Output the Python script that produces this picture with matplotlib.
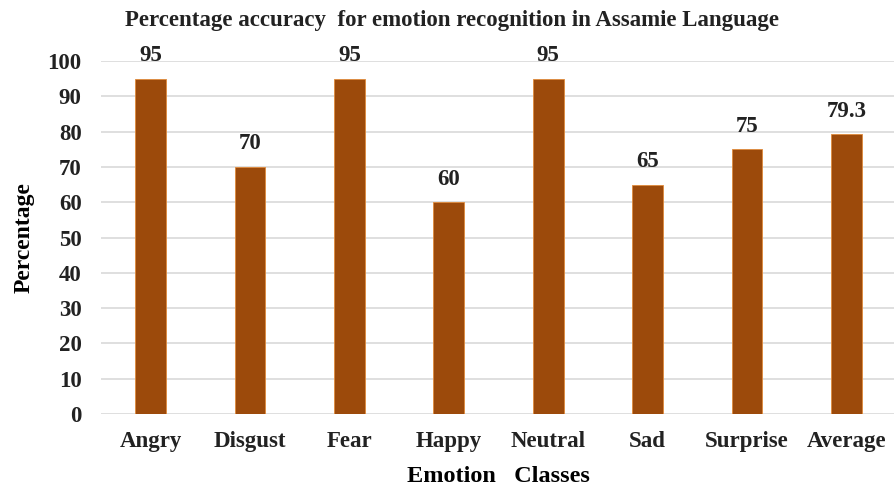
import matplotlib.pyplot as plt
import numpy as np

plt.rcParams['font.family'] = ['Liberation Serif', 'DejaVu Serif']
plt.rcParams['font.weight'] = 'bold'

# recognition accuracy (%) per emotion class
classes = ["Angry", "Disgust", "Fear", "Happy", "Neutral", "Sad", "Surprise", "Average"]
accuracy = [95, 70, 95, 60, 95, 65, 75, 79.3]
labels = ["95", "70", "95", "60", "95", "65", "75", "79.3"]

fig = plt.figure(figsize=(8.95, 4.88), dpi=100)
ax = fig.add_axes([101 / 895, 1 - 414 / 488, 795 / 895, 353 / 488])

x = np.arange(len(classes))
bars = ax.bar(x, accuracy, width=0.31, color="#9C4A0B", edgecolor="#E08A3A",
              linewidth=0.6, zorder=3)

for b, lab in zip(bars, labels):
    ax.annotate(lab, (b.get_x() + b.get_width() / 2, b.get_height()),
                xytext=(0, 9), textcoords="offset points", ha="center",
                va="bottom", fontsize=16.5, fontweight="bold", color="#222222")

ax.set_xlim(-0.5, len(classes) - 0.5)
ax.set_ylim(0, 100)
ax.set_yticks(np.arange(0, 101, 10))
ax.set_xticks(x)
ax.set_xticklabels(classes)
ax.tick_params(axis="both", length=0, labelsize=16.5, colors="#222222")
ax.tick_params(axis="x", pad=12)
ax.tick_params(axis="y", pad=14)
ax.grid(axis="y", color="#D9D9D9", linewidth=1.2, zorder=0)
ax.set_axisbelow(True)
for s in ax.spines.values():
    s.set_visible(False)

ax.set_ylabel("Percentage", fontsize=17, fontweight="bold", labelpad=9)
ax.set_xlabel("Emotion   Classes", fontsize=17.5, fontweight="bold", labelpad=10)
fig.text(0.505, 0.957, "Percentage accuracy  for emotion recognition in Assamie Language",
         ha="center", va="center", fontsize=16.5, fontweight="bold", color="#222222")

fig.savefig("out.png", dpi=100)
